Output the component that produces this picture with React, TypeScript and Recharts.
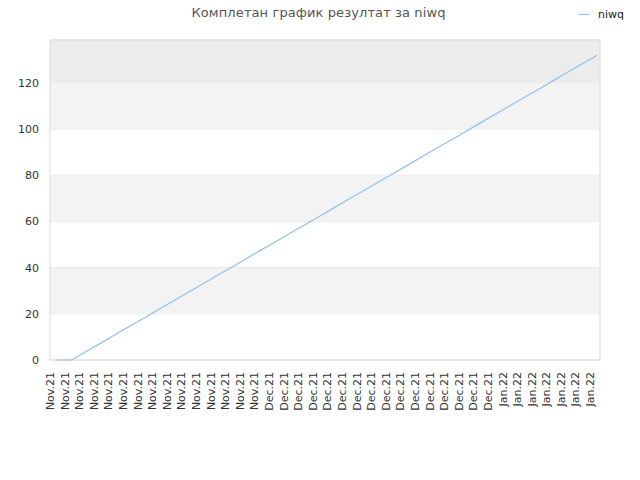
import { LineChart, Line, XAxis, YAxis, CartesianGrid, ReferenceArea } from 'recharts'

const months = [
  'Nov.21', 'Nov.21', 'Nov.21', 'Nov.21', 'Nov.21', 'Nov.21', 'Nov.21', 'Nov.21',
  'Nov.21', 'Nov.21', 'Nov.21', 'Nov.21', 'Nov.21', 'Nov.21', 'Nov.21',
  'Dec.21', 'Dec.21', 'Dec.21', 'Dec.21', 'Dec.21', 'Dec.21', 'Dec.21', 'Dec.21',
  'Dec.21', 'Dec.21', 'Dec.21', 'Dec.21', 'Dec.21', 'Dec.21', 'Dec.21', 'Dec.21',
  'Jan.22', 'Jan.22', 'Jan.22', 'Jan.22', 'Jan.22', 'Jan.22', 'Jan.22',
]

const niwq = [
  0, 0, 3.7, 7.3, 11, 14.7, 18.3, 22, 25.7, 29.3, 33, 36.7, 40.3, 44, 47.7, 51.3, 55, 58.7, 62.3,
  66, 69.7, 73.3, 77, 80.7, 84.3, 88, 91.7, 95.3, 99, 102.7, 106.3, 110, 113.7, 117.3, 121, 124.7, 128.3, 132,
]

const yTicks = [0, 20, 40, 60, 80, 100, 120]
const yMax = 138.6

const data = months.map((m, i) => ({ idx: i, label: m, niwq: niwq[i] }))
const xTicks = data.map((d) => d.idx)

const font = '"DejaVu Sans", sans-serif'

function XTick({ x, y, payload }: any) {
  return (
    <text
      x={x}
      y={y}
      transform={`rotate(-90, ${x}, ${y})`}
      textAnchor="end"
      dy={-3}
      dx={-4}
      fontSize={11}
      fontFamily={font}
      fill="#333"
    >
      {months[payload.value]}
    </text>
  )
}

export default function App() {
  return (
    <div style={{ position: 'absolute', left: 0, top: 0, width: 640, height: 480, background: '#fff' }}>
      <div
        style={{
          position: 'absolute', top: 5, left: 0, width: 637, textAlign: 'center',
          fontFamily: font, fontSize: 13, color: '#555', letterSpacing: 0.1,
        }}
      >
        Комплетан график резултат за niwq
      </div>
      <div
        style={{
          position: 'absolute', top: 8, left: 578, display: 'flex', alignItems: 'center',
          fontFamily: font, fontSize: 11, color: '#222',
        }}
      >
        <span style={{ display: 'inline-block', width: 12, height: 1, background: '#8ec0f2', marginRight: 8 }} />
        niwq
      </div>
      <LineChart width={640} height={480} data={data} margin={{ top: 40, right: 40, bottom: 0, left: 0 }}>
        <ReferenceArea y1={120} y2={yMax} fill="#ececec" fillOpacity={1} stroke="none" />
        <ReferenceArea y1={100} y2={120} fill="#f3f3f3" fillOpacity={1} stroke="none" />
        <ReferenceArea y1={60} y2={80} fill="#f3f3f3" fillOpacity={1} stroke="none" />
        <ReferenceArea y1={20} y2={40} fill="#f3f3f3" fillOpacity={1} stroke="none" />
        <CartesianGrid vertical={false} stroke="#e3e3e3" />
        <ReferenceArea y1={0} y2={yMax} fill="none" stroke="#dcdcdc" />
        <XAxis
          dataKey="idx"
          type="number"
          domain={[-0.48, 37.2]}
          ticks={xTicks}
          interval={0}
          height={120}
          tick={<XTick />}
          tickLine={false}
          axisLine={false}
        />
        <YAxis
          domain={[0, yMax]}
          ticks={yTicks}
          width={50}
          tick={{ fontSize: 11, fill: '#333', fontFamily: font, dx: -3 }}
          tickLine={false}
          axisLine={false}
        />
        <Line
          dataKey="niwq"
          stroke="#8ec0f2"
          strokeWidth={1.2}
          dot={false}
          isAnimationActive={false}
        />
      </LineChart>
    </div>
  )
}
